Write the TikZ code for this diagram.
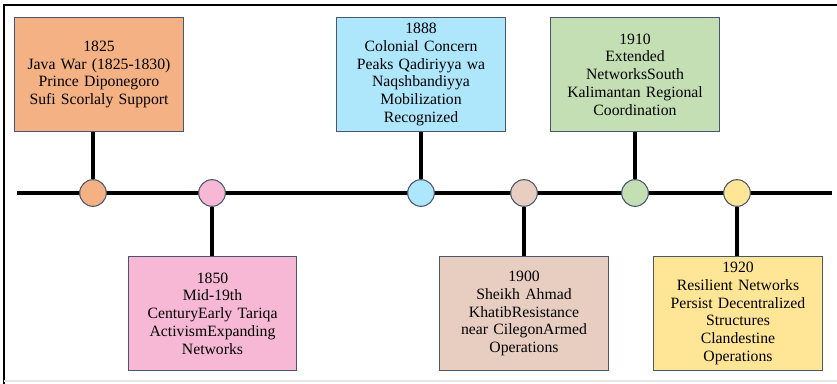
\documentclass[tikz,border=0pt]{standalone}
\usepackage{fontspec}
\setmainfont{Liberation Serif}
\usetikzlibrary{shapes.geometric}
\definecolor{javaorange}{HTML}{F4B183}
\definecolor{midpink}{HTML}{F6B8D4}
\definecolor{colblue}{HTML}{AEE6FB}
\definecolor{khatibtan}{HTML}{E8CDC1}
\definecolor{extgreen}{HTML}{C5DFB4}
\definecolor{resyellow}{HTML}{FFE596}
\definecolor{edgeblue}{HTML}{4A5670}
\tikzstyle{event} = [rectangle, minimum width=123pt, minimum height=86pt, text width=120pt, align=center, draw=edgeblue, line width=0.8pt, font=\fontsize{11.8}{13.3}\selectfont]
\tikzstyle{dot} = [circle, minimum size=20pt, inner sep=0pt, draw=edgeblue, line width=0.8pt]
\tikzstyle{stem} = [line width=2.5pt, black]

\begin{document}
\begin{tikzpicture}[x=0.75pt, y=-0.75pt]
\useasboundingbox (0,0) rectangle (837,384);

% frame
\draw[line width=2.2pt] (4,384) -- (4,5) -- (837,5);
\draw[black!10, line width=1pt] (4,381) -- (837,381);

% timeline
\coordinate (start) at (17,193);
\coordinate (end) at (832,193);
\draw [stem] (start) -- (end);

% objects
\node (box1825) at (99,74.5) [event, fill=javaorange] {1825\\Java War (1825-1830)\\Prince Diponegoro\\Sufi Scorlaly Support};
\node (box1850) at (212.5,313.5) [event, fill=midpink] {1850\\Mid-19th\\CenturyEarly Tariqa\\ActivismExpanding\\Networks};
\node (box1888) at (421,74.5) [event, fill=colblue] {1888\\Colonial Concern\\Peaks Qadiriyya wa\\Naqshbandiyya\\Mobilization\\Recognized};
\node (box1900) at (524,313.5) [event, fill=khatibtan] {1900\\Sheikh Ahmad\\KhatibResistance\\near CilegonArmed\\Operations};
\node (box1910) at (635,74.5) [event, fill=extgreen] {1910\\Extended\\NetworksSouth\\Kalimantan Regional\\Coordination};
\node (box1920) at (738,313.5) [event, fill=resyellow] {1920\\Resilient Networks\\Persist Decentralized\\Structures\\Clandestine\\Operations};

% dots
\node (dot1825) at (93,193) [dot, fill=javaorange] {};
\node (dot1850) at (212,193) [dot, fill=midpink] {};
\node (dot1888) at (421,193) [dot, fill=colblue] {};
\node (dot1900) at (524,193) [dot, fill=khatibtan] {};
\node (dot1910) at (635,193) [dot, fill=extgreen] {};
\node (dot1920) at (737,193) [dot, fill=resyellow] {};

% stems
\draw [stem] (box1825.south -| dot1825) -- (dot1825.north);
\draw [stem] (box1850.north -| dot1850) -- (dot1850.south);
\draw [stem] (box1888.south -| dot1888) -- (dot1888.north);
\draw [stem] (box1900.north -| dot1900) -- (dot1900.south);
\draw [stem] (box1910.south -| dot1910) -- (dot1910.north);
\draw [stem] (box1920.north -| dot1920) -- (dot1920.south);

\end{tikzpicture}
\end{document}
